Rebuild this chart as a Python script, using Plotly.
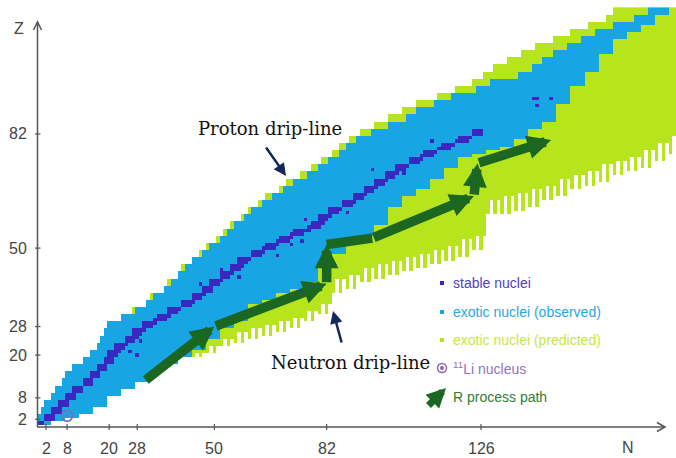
import numpy as np
import plotly.graph_objects as go

W, H = 676, 458
X_RANGE = [-11.12, 181.59]   # N shown across the page width
Y_RANGE = [-8.86, 119.57]    # Z shown across the page height

# ---------------- data ----------------
# proton-rich (upper-left) edge: first N of each pair of rows Z, Z+1
edge_Z = list(range(0, 118, 2))
obs_first_N = [0, 0, 1, 2, 4, 5, 7, 8, 10, 13, 15, 17, 18, 19, 20, 24, 28, 31, 33, 36,
               38, 40, 42, 44, 47, 49, 52, 54, 56, 59, 61, 64, 67, 70, 73, 77, 80, 83, 86, 88,
               91, 95, 100, 105, 108, 113, 118, 125, 129, 137, 141, 144, 147, 151, 155, 159, 164, 170, 174]
pred_first_N = [0, 0, 1, 2, 4, 5, 7, 8, 10, 13, 15, 17, 18, 19, 20, 24, 27, 31, 32, 36,
                37, 40, 41, 44, 46, 48, 51, 53, 55, 58, 60, 63, 65, 69, 71, 75, 78, 81, 84, 86,
                89, 92, 96, 100, 104, 108, 114, 119, 124, 127, 130, 134, 138, 142, 147, 152, 157, 162, 164]

# neutron-rich (lower) edge: lowest Z of each block of four columns N..N+3
col_N = list(range(0, 185, 4))
obs_low_Z = [1, 2, 3, 4, 6, 9, 11, 13, 16, 18, 20, 22, 25, 28, 30, 35, 36, 38, 39, 41,
             46, 49, 52, 54, 57, 62, 65, 67, 70, 73, 76, 77, 78, 79, 81, 84, 86, 91, 96, 100,
             105, 109, 111, 113, 116, 118, 119]
pred_low_even_Z = [1, 2, 3, 4, 6, 9, 11, 13, 16, 18, 20, 20, 21, 23, 24, 25, 26, 27, 28, 30,
                   32, 38, 39, 41, 42, 43, 44, 45, 46, 47, 48, 50, 60, 60, 61, 62, 64, 65, 67, 68,
                   69, 71, 72, 73, 75, 77, 79]
pred_low_odd_Z = [1, 2, 3, 4, 6, 9, 11, 13, 16, 18, 20, 21, 23, 25, 27, 28, 29, 30, 31, 33,
                  35, 42, 43, 45, 46, 47, 48, 49, 50, 51, 53, 54, 64, 65, 66, 67, 68, 70, 71, 72,
                  74, 75, 76, 78, 80, 82, 84]
Z_TOP = 117
N_MAX = 182

# stable nuclei: N range of each pair of rows Z, Z+1
stable_Z = list(range(0, 84, 2))
stable_lo_N = [0, 2, 4, 6, 8, 10, 13, 15, 17, 19, 20, 22, 25, 27, 30, 33, 37, 41, 44, 47,
               49, 52, 55, 57, 61, 64, 68, 72, 77, 80, 83, 87, 90, 93, 96, 99, 102, 106, 109, 114,
               119, 124]
stable_hi_N = [1, 4, 6, 8, 10, 12, 15, 17, 19, 21, 23, 25, 28, 30, 33, 37, 40, 44, 47, 49,
               52, 55, 58, 60, 64, 68, 72, 77, 81, 83, 86, 90, 93, 96, 99, 102, 105, 109, 113, 118,
               123, 126]
stable_extra_N = [26, 28, 29, 46, 47, 52, 57, 63, 68, 72, 75, 76, 81, 88, 95, 104, 112, 141, 142, 146, 142]
stable_extra_Z = [21, 20, 24, 40, 37, 44, 42, 49, 48, 51, 52, 58, 57, 60, 72, 71, 80, 92, 92, 92, 90]

li11_N = [8]
li11_Z = [3]

r_path_N = [30, 50, 82, 82, 95, 124, 125, 146]
r_path_Z = [12.7, 28, 40, 51, 52.8, 64.6, 73.8, 80.3]
r_path_head = [1, 1, 1, 0, 1, 1, 1]

x_ticks = [2, 8, 20, 28, 50, 82, 126]
y_ticks = [2, 8, 20, 28, 50, 82]

legend_labels = ["stable nuclei", "exotic nuclei (observed)", "exotic nuclei (predicted)",
                 "<sup>11</sup>Li nucleus", "R process path"]

# ---------------- colours ----------------
C_PRED = "#b6e51e"
C_OBS = "#17a6e3"
C_STAB = "#3828c0"
C_LI = "#8c64b4"
C_R = "#1b6620"
C_AX = "#555555"
C_TXT = "#444444"
C_NAVY = "#14285a"
FONT = "Liberation Sans, Arial, sans-serif"

# ---------------- build the cell grid ----------------
Ns = np.arange(0, N_MAX + 1)
Zs = np.arange(0, Z_TOP + 1)
grid = np.full((len(Zs), len(Ns)), np.nan)
for z in Zs:
    r = min(z // 2, len(edge_Z) - 1)
    for n in Ns:
        c = min(n // 4, len(col_N) - 1)
        low_pred = pred_low_even_Z[c] if n % 2 == 0 else pred_low_odd_Z[c]
        if n >= obs_first_N[r] and z >= obs_low_Z[c]:
            grid[z, n] = 2
        elif n >= pred_first_N[r] and z >= low_pred:
            grid[z, n] = 1

for i, z0 in enumerate(stable_Z):
    lo, hi = stable_lo_N[i], stable_hi_N[i]
    mid = (lo + hi) // 2
    for z, a, b in ((z0, lo, mid + 1), (z0 + 1, max(lo, mid - 1), hi)):
        if z >= 1:
            grid[z, a:b + 1] = 3
for n, z in zip(stable_extra_N, stable_extra_Z):
    grid[z, n] = 3

colorscale = [[0, C_PRED], [1 / 3, C_PRED], [1 / 3, C_OBS], [2 / 3, C_OBS],
              [2 / 3, C_STAB], [1, C_STAB]]

fig = go.Figure()
fig.add_trace(go.Heatmap(z=grid, x=Ns, y=Zs, zmin=0.5, zmax=3.5, colorscale=colorscale,
                         showscale=False, hoverinfo="skip", zsmooth=False))

fig.add_trace(go.Scatter(x=li11_N, y=li11_Z, mode="markers", hoverinfo="skip",
                         marker=dict(symbol="circle-open-dot", size=11, color=C_LI,
                                     line=dict(width=1.6, color=C_LI))))

ann = []
# R-process path
for i in range(len(r_path_N) - 1):
    if r_path_head[i]:
        ann.append(dict(x=r_path_N[i + 1], y=r_path_Z[i + 1], ax=r_path_N[i], ay=r_path_Z[i],
                        xref="x", yref="y", axref="x", ayref="y", text="", showarrow=True,
                        arrowhead=2, arrowsize=0.5, arrowwidth=9.5, arrowcolor=C_R))
    else:
        fig.add_trace(go.Scatter(x=r_path_N[i:i + 2], y=r_path_Z[i:i + 2], mode="lines",
                                 hoverinfo="skip", line=dict(color=C_R, width=9.5)))


def px(x):
    return x / W


def py(y):
    return 1 - y / H


shapes = []
# axes lines with open arrowheads
shapes.append(dict(type="line", xref="paper", yref="paper", x0=px(37.5), y0=py(427), x1=px(37.5), y1=py(22),
                   line=dict(color=C_AX, width=1.5)))
shapes.append(dict(type="line", xref="paper", yref="paper", x0=px(37), y0=py(427), x1=px(665), y1=py(427),
                   line=dict(color=C_AX, width=1.5)))
shapes.append(dict(type="path", xref="paper", yref="paper",
                   path=f"M{px(33.5)},{py(30)} L{px(37.5)},{py(22)} L{px(41.5)},{py(30)}",
                   line=dict(color=C_AX, width=1.5)))
shapes.append(dict(type="path", xref="paper", yref="paper",
                   path=f"M{px(657)},{py(422.5)} L{px(665)},{py(427)} L{px(657)},{py(431.5)}",
                   line=dict(color=C_AX, width=1.5)))
for t in x_ticks:
    shapes.append(dict(type="line", xref="x", yref="paper", x0=t, x1=t, y0=py(424), y1=py(430),
                       line=dict(color=C_AX, width=1.2)))
for t in y_ticks:
    shapes.append(dict(type="line", xref="paper", yref="y", x0=px(35), x1=px(40.5), y0=t, y1=t,
                       line=dict(color=C_AX, width=1.2)))

for t in x_ticks:
    ann.append(dict(x=t, y=py(448), xref="x", yref="paper", text=str(t), showarrow=False,
                    xanchor="center", yanchor="middle",
                    font=dict(family=FONT, size=16, color=C_TXT)))
for t in y_ticks:
    ann.append(dict(x=px(29), y=t, xref="paper", yref="y", text=str(t), showarrow=False,
                    xanchor="right", yanchor="middle",
                    font=dict(family=FONT, size=16, color=C_TXT)))
ann.append(dict(x=px(19), y=py(29), xref="paper", yref="paper", text="Z", showarrow=False,
                xanchor="center", yanchor="middle", font=dict(family=FONT, size=16, color=C_TXT)))
ann.append(dict(x=px(628), y=py(447), xref="paper", yref="paper", text="N", showarrow=False,
                xanchor="center", yanchor="middle", font=dict(family=FONT, size=16, color=C_TXT)))

# drip-line labels and arrows
ann.append(dict(x=px(270), y=py(129), xref="paper", yref="paper", text="Proton drip-line", showarrow=False,
                xanchor="center", yanchor="middle", font=dict(family="DejaVu Serif", size=18, color="#111111")))
ann.append(dict(x=px(350), y=py(362), xref="paper", yref="paper", text="Neutron drip-line", showarrow=False,
                xanchor="center", yanchor="middle", font=dict(family="DejaVu Serif", size=18, color="#111111")))
ann.append(dict(x=px(286), y=py(176), xref="paper", yref="paper", ax=-21, ay=-30, text="", showarrow=True,
                arrowhead=2, arrowsize=1, arrowwidth=2.5, arrowcolor=C_NAVY))
ann.append(dict(x=px(333), y=py(311), xref="paper", yref="paper", ax=9, ay=33, text="", showarrow=True,
                arrowhead=2, arrowsize=1, arrowwidth=2.5, arrowcolor=C_NAVY))

# legend
leg_colors = ["#4f3fc4", "#2aa6e0", "#c4e93e", "#9272bd", "#2f7d33"]
leg_y = [283, 312, 340, 368, 397]
for lab, col, y in zip(legend_labels, leg_colors, leg_y):
    ann.append(dict(x=px(451), y=py(y), xref="paper", yref="paper", text=lab, showarrow=False,
                    xanchor="left", yanchor="middle", font=dict(family=FONT, size=14, color=col)))
for col, y in zip([C_STAB, C_OBS, C_PRED], leg_y[:3]):
    shapes.append(dict(type="rect", xref="paper", yref="paper", x0=px(440), x1=px(444),
                       y0=py(y + 2), y1=py(y - 2), fillcolor=col, line=dict(width=0)))
shapes.append(dict(type="circle", xref="paper", yref="paper", x0=px(437.5), x1=px(446.5), y0=py(372.5), y1=py(363.5),
                   line=dict(color=C_LI, width=1.5)))
shapes.append(dict(type="circle", xref="paper", yref="paper", x0=px(440), x1=px(444), y0=py(370), y1=py(366),
                   fillcolor=C_LI, line=dict(width=0)))
ann.append(dict(x=px(446), y=py(388), xref="paper", yref="paper", ax=-19, ay=19, text="", showarrow=True,
                arrowhead=2, arrowsize=0.55, arrowwidth=7, arrowcolor=C_R))

fig.update_layout(width=W, height=H, margin=dict(l=0, r=0, t=0, b=0),
                  paper_bgcolor="white", plot_bgcolor="white", showlegend=False,
                  xaxis=dict(range=X_RANGE, visible=False, fixedrange=True),
                  yaxis=dict(range=Y_RANGE, visible=False, fixedrange=True),
                  shapes=shapes, annotations=ann)

fig.write_html("out.html", config={"displayModeBar": False},
               post_script="document.body.style.margin='0';document.body.style.overflow='hidden';")
